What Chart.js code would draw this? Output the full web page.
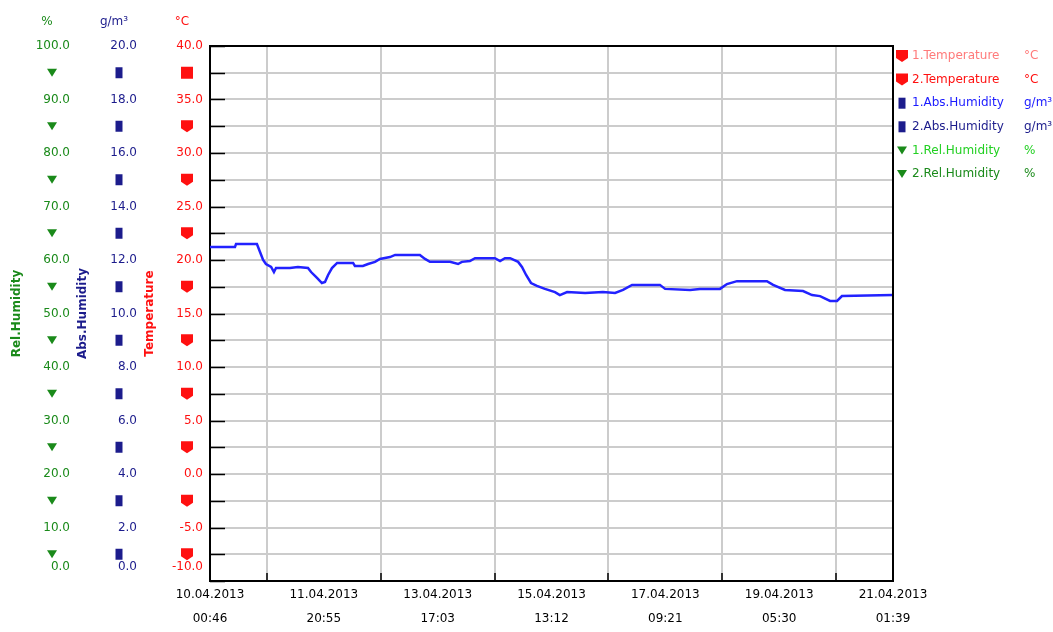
<!DOCTYPE html>
<html>
<head>
<meta charset="utf-8">
<script src="https://cdn.jsdelivr.net/npm/chart.js@4.4.1/dist/chart.umd.min.js"></script>
<style>
  html, body { margin: 0; padding: 0; background: #ffffff; }
  #wrap { position: relative; width: 1053px; height: 632px; }
</style>
</head>
<body>
<div id="wrap"><canvas id="chart" width="1053" height="632"></canvas></div>
<script>
// Time axis: one label every 44 h 09 min, starting 10.04.2013 00:46
const tickDates = ['10.04.2013', '11.04.2013', '13.04.2013', '15.04.2013', '17.04.2013', '19.04.2013', '21.04.2013'];
const tickTimes = ['00:46', '20:55', '17:03', '13:12', '09:21', '05:30', '01:39'];
const tickStepHours = 44.15;

// Labelled values of the three value axes, top to bottom
const relHumidityTicks = [100, 90, 80, 70, 60, 50, 40, 30, 20, 10, 0];
const absHumidityTicks = [20, 18, 16, 14, 12, 10, 8, 6, 4, 2, 0];
const temperatureTicks = [40, 35, 30, 25, 20, 15, 10, 5, 0, -5, -10];

// 1.Abs.Humidity log: hours after the first time label, g/m³
const absHumHours = [0.0, 9.7, 10.1, 18.2, 19.4, 20.6, 21.7, 23.7, 24.8, 25.6, 31.0, 34.1, 38.0, 39.2, 41.5,
  43.4, 44.6, 45.8, 47.3, 49.3, 55.5, 56.2, 59.3, 61.3, 64.0, 65.9, 69.8, 71.8, 81.4, 83.4, 85.3, 93.1,
  96.2, 97.7, 100.8, 102.8, 110.5, 112.5, 114.4, 116.4, 119.5, 121.0, 122.6, 124.5, 126.8, 129.9, 133.8,
  135.7, 138.5, 145.5, 152.4, 157.1, 160.2, 163.7, 174.5, 176.5, 186.2, 190.0, 197.8, 200.5, 204.4,
  216.0, 218.4, 223.0, 230.0, 233.5, 236.6, 240.5, 243.2, 245.1, 264.9];
const absHumValues = [12.49, 12.49, 12.60, 12.60, 12.30, 12.00, 11.85, 11.74, 11.55, 11.70, 11.70, 11.74, 11.70,
  11.55, 11.33, 11.14, 11.18, 11.44, 11.70, 11.89, 11.89, 11.78, 11.78, 11.85, 11.93, 12.04, 12.11, 12.19,
  12.19, 12.04, 11.93, 11.93, 11.85, 11.93, 11.96, 12.07, 12.07, 11.96, 12.07, 12.07, 11.93, 11.74, 11.44,
  11.14, 11.03, 10.92, 10.80, 10.69, 10.80, 10.77, 10.80, 10.77, 10.88, 11.07, 11.07, 10.92, 10.88, 10.92,
  10.92, 11.10, 11.21, 11.21, 11.07, 10.88, 10.84, 10.69, 10.65, 10.47, 10.47, 10.65, 10.69];

// Legend entries
const legendNames = ['1.Temperature', '2.Temperature', '1.Abs.Humidity', '2.Abs.Humidity', '1.Rel.Humidity', '2.Rel.Humidity'];
const legendUnits = ['°C', '°C', 'g/m³', 'g/m³', '%', '%'];

const GREEN = '#1a8a1a';
const NAVY = '#1c1c8c';
const RED = '#ff1010';
const FONT = 'DejaVu Sans';

const legendTextColors = ['#ff7a7a', '#ff1010', '#1a1aff', '#1c1c8c', '#22d022', '#1a8a1a'];
const legendMarkers = [['pin', RED], ['pin', RED], ['box', NAVY], ['box', NAVY], ['tri', GREEN], ['tri', GREEN]];

function fmt(v) { return v.toFixed(1); }

function drawMarker(ctx, kind, x, y, color) {
  ctx.save();
  ctx.fillStyle = color;
  ctx.beginPath();
  if (kind === 'tri') {
    ctx.moveTo(x - 5, y - 4); ctx.lineTo(x + 5, y - 4); ctx.lineTo(x, y + 4);
  } else if (kind === 'box') {
    ctx.rect(x - 3.5, y - 5.5, 7, 11);
  } else if (kind === 'square') {
    ctx.rect(x - 6, y - 6, 12, 12);
  } else { // pin
    ctx.moveTo(x - 6, y - 6); ctx.lineTo(x + 6, y - 6); ctx.lineTo(x + 6, y + 2);
    ctx.lineTo(x, y + 6); ctx.lineTo(x - 6, y + 2);
  }
  ctx.closePath();
  ctx.fill();
  ctx.restore();
}

// one left value axis; labels every other tick, markers on the ticks in between
function valueAxis(list, color, title, weight, width, titlePad, labelPad, unit, marker, firstMarker) {
  const hi = list[0], lo = list[list.length - 1];
  const half = (hi - lo) / (list.length - 1) / 2;
  return {
    type: 'linear', position: 'left', weight, min: lo, max: hi,
    unit, marker, firstMarker, axisColor: color,
    afterBuildTicks(s) {
      const t = [];
      for (let i = 0; i <= 2 * (list.length - 1); i++) t.push({ value: lo + i * half });
      s.ticks = t;
    },
    afterFit(s) { s.width = width; },
    ticks: {
      color, padding: labelPad, autoSkip: false,
      font: { family: FONT, size: 12 },
      // lowest label is lifted so it stays clear of the time labels
      callback: (v, i) => (i % 2 ? '' : (i === 0 ? [fmt(v), '', ''] : fmt(v)))
    },
    grid: { display: false, drawTicks: false },
    border: { display: false },
    title: { display: true, text: title, color, font: { family: FONT, size: 12, weight: 'bold' }, padding: { top: titlePad, bottom: 0 } }
  };
}

const scales = {
  yRel: valueAxis(relHumidityTicks, GREEN, 'Rel.Humidity', 3, 75, 10, 5, '%', 'tri', 'tri'),
  yAbs: valueAxis(absHumidityTicks, NAVY, 'Abs.Humidity', 2, 67, 1, 5, 'g/m³', 'box', 'box'),
  yTemp: valueAxis(temperatureTicks, RED, 'Temperature', 1, 68, 1, 7, '°C', 'pin', 'square'),
  x: {
    type: 'linear', position: 'bottom', min: 0, max: tickStepHours * (tickDates.length - 1),
    afterBuildTicks(s) { s.ticks = tickDates.map((d, i) => ({ value: i * tickStepHours })); },
    afterFit(s) { s.height = 51; },
    ticks: {
      autoSkip: false, maxRotation: 0, padding: 2, color: '#000000',
      font: { family: FONT, size: 12, lineHeight: 2 },
      callback: (v, i) => [tickDates[i], tickTimes[i]]
    },
    grid: { offset: true, drawTicks: false, color: '#cccccc', lineWidth: 2 },
    border: { color: '#000000', width: 2 }
  }
};
// the innermost axis carries the horizontal grid and the left frame line
scales.yTemp.grid = { display: true, drawTicks: false, color: '#cccccc', lineWidth: 2 };
scales.yTemp.border = { display: true, color: '#000000', width: 2 };

const decorations = {
  id: 'decorations',
  afterDraw(chart) {
    const ctx = chart.ctx;
    const area = chart.chartArea;
    ctx.save();
    // top and right frame lines
    ctx.strokeStyle = '#000000';
    ctx.lineWidth = 2;
    ctx.beginPath();
    ctx.moveTo(area.left, area.top); ctx.lineTo(area.right, area.top); ctx.lineTo(area.right, area.bottom);
    ctx.stroke();

    // inward tick marks on the left edge
    const yt = chart.scales.yTemp;
    ctx.lineWidth = 1.5;
    ctx.beginPath();
    yt.ticks.forEach(t => {
      const y = Math.round(yt.getPixelForValue(t.value)) + 0.5;
      ctx.moveTo(area.left, y); ctx.lineTo(area.left + 15, y);
    });
    // inward tick marks on the bottom edge, between the time labels
    const xs = chart.scales.x;
    for (let i = 0; i < xs.ticks.length - 1; i++) {
      const x = Math.round((xs.getPixelForValue(xs.ticks[i].value) + xs.getPixelForValue(xs.ticks[i + 1].value)) / 2);
      ctx.moveTo(x, area.bottom); ctx.lineTo(x, area.bottom - 8);
    }
    ctx.stroke();

    // unit headers and in-between markers of the value axes
    ['yRel', 'yAbs', 'yTemp'].forEach(id => {
      const s = chart.scales[id];
      const o = s.options;
      ctx.fillStyle = o.axisColor;
      ctx.font = '12px "' + FONT + '"';
      ctx.textAlign = 'center';
      ctx.textBaseline = 'middle';
      ctx.fillText(o.unit, s.right - 28, 22);
      let n = 0;
      s.ticks.forEach((t, i) => {
        if (i % 2 === 1) {
          const kind = (i === s.ticks.length - 2) ? o.firstMarker : o.marker;
          drawMarker(ctx, kind, s.right - 23, s.getPixelForValue(t.value), o.axisColor);
          n++;
        }
      });
    });

    // legend
    ctx.font = '12px "' + FONT + '"';
    ctx.textAlign = 'left';
    ctx.textBaseline = 'middle';
    legendNames.forEach((name, i) => {
      const y = 56 + i * 23.6;
      drawMarker(ctx, legendMarkers[i][0], 902, y, legendMarkers[i][1]);
      ctx.fillStyle = legendTextColors[i];
      ctx.fillText(name, 912, y);
      ctx.fillText(legendUnits[i], 1024, y);
    });
    ctx.restore();
  }
};

new Chart(document.getElementById('chart'), {
  type: 'line',
  data: {
    datasets: [{
      label: legendNames[2],
      data: absHumHours.map((h, i) => ({ x: h, y: absHumValues[i] })),
      yAxisID: 'yAbs',
      borderColor: '#2222ff',
      borderWidth: 2.5,
      pointRadius: 0,
      tension: 0,
      fill: false
    }]
  },
  options: {
    responsive: false,
    animation: false,
    devicePixelRatio: 1,
    layout: { padding: { top: 46, right: 160, left: 0, bottom: 0 } },
    plugins: { legend: { display: false }, tooltip: { enabled: false } },
    scales
  },
  plugins: [decorations]
});
</script>
</body>
</html>
